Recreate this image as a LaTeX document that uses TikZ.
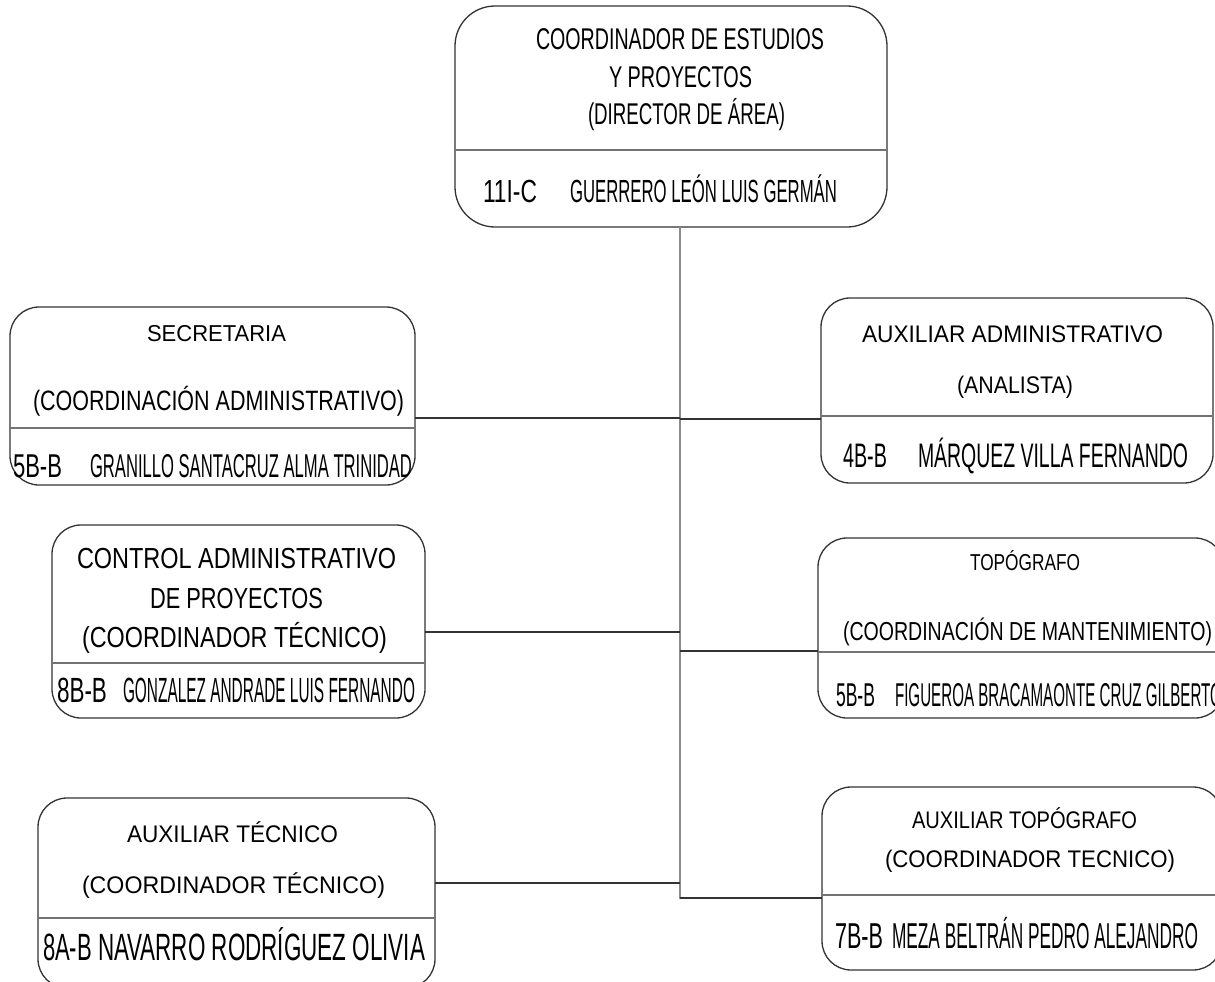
\documentclass[tikz,border=0pt]{standalone}
\usepackage{fontspec}
\usepackage{graphicx}
\setmainfont{Liberation Sans}
\newcommand\fitt[3]{\resizebox{#1pt}{\height}{\fontsize{#2pt}{#2pt}\selectfont #3}}
\begin{document}
\begin{tikzpicture}[x=1pt,y=-1pt,
  box/.style={draw=black!80, line width=1.3pt, rounded corners=29pt, inner sep=0pt, outer sep=0pt},
  div/.style={draw=black!55, line width=1.6pt},
  trunk/.style={draw=black!45, line width=1.7pt},
  conn/.style={draw=black!80, line width=1.3pt},
  txt/.style={anchor=base west, inner sep=0pt, outer sep=0pt, text=black}]
\clip (0,0) rectangle (1215,982);
\fill[white] (0,0) rectangle (1215,982);
% boxes
\node[box, rounded corners=40pt, minimum width=432pt, minimum height=221pt] (top) at (671,116.5) {};
\node[box, minimum width=405pt, minimum height=178pt] (sec) at (212.5,396) {};
\node[box, minimum width=392pt, minimum height=185pt] (adm) at (1017,390.5) {};
\node[box, minimum width=373pt, minimum height=193pt] (ctl) at (238.5,621.5) {};
\node[box, minimum width=406pt, minimum height=180pt] (topo) at (1021,628) {};
\node[box, minimum width=397pt, minimum height=190pt] (atec) at (236.5,893) {};
\node[box, minimum width=400pt, minimum height=183pt] (atopo) at (1022,878.5) {};
% dividers
\draw[div] (top.west |- 0,150) -- (top.east |- 0,150);
\draw[div] (sec.west |- 0,428) -- (sec.east |- 0,428);
\draw[div] (adm.west |- 0,416) -- (adm.east |- 0,416);
\draw[div] (ctl.west |- 0,663) -- (ctl.east |- 0,663);
\draw[div] (topo.west |- 0,652) -- (topo.east |- 0,652);
\draw[div] (atec.west |- 0,918) -- (atec.east |- 0,918);
\draw[div] (atopo.west |- 0,895) -- (atopo.east |- 0,895);
% connectors
\coordinate (jend) at (680,899);
\coordinate (j1) at (680,418);
\coordinate (j2) at (680,419);
\coordinate (j3) at (680,632);
\coordinate (j4) at (680,651);
\coordinate (j5) at (680,883);
\coordinate (j6) at (680,898);
\draw[trunk] (top.south -| jend) -- (jend);
\draw[conn] (sec.east |- j1) -- (j1);
\draw[conn] (j2) -- (adm.west |- j2);
\draw[conn] (ctl.east |- j3) -- (j3);
\draw[conn] (j4) -- (topo.west |- j4);
\draw[conn] (atec.east |- j5) -- (j5);
\draw[conn] (j6) -- (atopo.west |- j6);
% top texts
\node[txt] (t1) at (536,50) {\fitt{288}{30}{COORDINADOR DE ESTUDIOS}};
\node[txt] (t2) at (609,87) {\fitt{143}{30}{Y PROYECTOS}};
\node[txt] (t3) at (588,124) {\fitt{197}{30}{(DIRECTOR DE ÁREA)}};
\node[txt] (t4) at (483,202) {\fitt{54}{32}{11I-C}};
\node[txt] (t5) at (570,202) {\fitt{267}{32}{GUERRERO LEÓN LUIS GERMÁN}};
% secretaria
\node[txt] (s1) at (147,341) {\fitt{139}{23}{SECRETARIA}};
\node[txt] (s2) at (33,410) {\fitt{371}{28}{(COORDINACIÓN ADMINISTRATIVO)}};
\node[txt] (s3) at (13,477) {\fitt{49}{33}{5B-B}};
\node[txt] (s4) at (90,477) {\fitt{322}{33}{GRANILLO SANTACRUZ ALMA TRINIDAD}};
% auxiliar administrativo
\node[txt] (a1) at (862,342) {\fitt{301}{24}{AUXILIAR ADMINISTRATIVO}};
\node[txt] (a2) at (957,393) {\fitt{116}{24}{(ANALISTA)}};
\node[txt] (a3) at (843,467) {\fitt{44}{34}{4B-B}};
\node[txt] (a4) at (918,467) {\fitt{270}{34}{MÁRQUEZ VILLA FERNANDO}};
% control administrativo
\node[txt] (c1) at (77,568) {\fitt{319}{29}{CONTROL ADMINISTRATIVO}};
\node[txt] (c2) at (150,608) {\fitt{173}{29}{DE PROYECTOS}};
\node[txt] (c3) at (82,647) {\fitt{305}{29}{(COORDINADOR TÉCNICO)}};
\node[txt] (c4) at (57,702) {\fitt{50}{35}{8B-B}};
\node[txt] (c5) at (123,702) {\fitt{292}{35}{GONZALEZ ANDRADE LUIS FERNANDO}};
% topografo
\node[txt] (p1) at (970,570) {\fitt{110}{23}{TOPÓGRAFO}};
\node[txt] (p2) at (843,640) {\fitt{369}{26}{(COORDINACIÓN DE MANTENIMIENTO)}};
\node[txt] (p3) at (836,706) {\fitt{39}{33}{5B-B}};
\node[txt] (p4) at (895,706) {\fitt{327}{33}{FIGUEROA BRACAMAONTE CRUZ GILBERTO}};
% auxiliar tecnico
\node[txt] (e1) at (127,842) {\fitt{211}{24}{AUXILIAR TÉCNICO}};
\node[txt] (e2) at (82,893) {\fitt{303}{24}{(COORDINADOR TÉCNICO)}};
\node[txt] (e3) at (43,960) {\fitt{49}{38}{8A-B}};
\node[txt] (e4) at (98,960) {\fitt{327}{38}{NAVARRO RODRÍGUEZ OLIVIA}};
% auxiliar topografo
\node[txt] (f1) at (912,828) {\fitt{225}{24}{AUXILIAR TOPÓGRAFO}};
\node[txt] (f2) at (885,867) {\fitt{290}{24}{(COORDINADOR TECNICO)}};
\node[txt] (f3) at (835,948) {\fitt{48}{36}{7B-B}};
\node[txt] (f4) at (892,948) {\fitt{306}{36}{MEZA BELTRÁN PEDRO ALEJANDRO}};
\end{tikzpicture}
\end{document}
